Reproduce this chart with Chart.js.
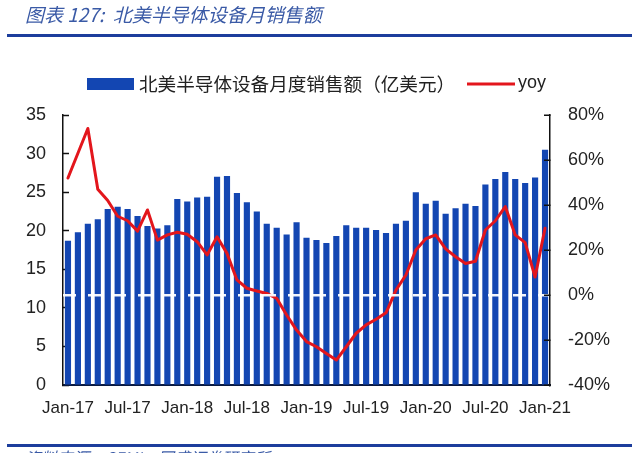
<!DOCTYPE html>
<html>
<head>
<meta charset="utf-8">
<script src="https://cdn.jsdelivr.net/npm/chart.js@4.4.1/dist/chart.umd.min.js"></script>
<style>
html,body{margin:0;padding:0;background:#fff;overflow:hidden}
#wrap{width:640px;height:453px;position:relative}
canvas{display:block}
</style>
</head>
<body>
<div id="wrap"><canvas id="c" width="640" height="453"></canvas></div>
<script>
const months = [
  "Jan-17","Feb-17","Mar-17","Apr-17","May-17","Jun-17","Jul-17","Aug-17","Sep-17","Oct-17","Nov-17","Dec-17",
  "Jan-18","Feb-18","Mar-18","Apr-18","May-18","Jun-18","Jul-18","Aug-18","Sep-18","Oct-18","Nov-18","Dec-18",
  "Jan-19","Feb-19","Mar-19","Apr-19","May-19","Jun-19","Jul-19","Aug-19","Sep-19","Oct-19","Nov-19","Dec-19",
  "Jan-20","Feb-20","Mar-20","Apr-20","May-20","Jun-20","Jul-20","Aug-20","Sep-20","Oct-20","Nov-20","Dec-20",
  "Jan-21"
];
// 北美半导体设备月度销售额（亿美元）
const sales = [
  18.7,19.8,20.9,21.5,22.8,23.1,22.8,21.9,20.6,20.3,20.7,24.1,
  23.8,24.3,24.4,27.0,27.1,24.9,23.7,22.5,20.9,20.4,19.5,21.1,
  19.1,18.8,18.4,19.3,20.7,20.4,20.4,20.1,19.7,20.9,21.3,25.0,
  23.5,23.9,22.2,22.9,23.5,23.2,26.0,26.7,27.6,26.7,26.2,26.9,
  30.5
];
// yoy (%)
const yoy = [
  52,63,74,47,42,35,33,28.4,37.8,24.4,26.7,27.9,
  27,23.7,17.8,25.9,18.5,6.7,3,1.8,0.7,-1.5,-8.9,-15.6,
  -20.7,-23,-26,-28.9,-23,-17,-13.3,-10.8,-7.9,2.2,8.9,20,
  25,26.7,20.5,17,14,15,28.9,33,39.3,26.7,23.3,8,
  29.7
];
const shownTickEvery = 6;
const titleText = "图表 127:  北美半导体设备月销售额";
const sourceText = "资料来源：SEMI，国盛证券研究所";
const salesLabel = "北美半导体设备月度销售额（亿美元）";
const yoyLabel = "yoy";

const BAR_BLUE = "#1346b2";
const LINE_RED = "#e3161c";

const decor = {
  id: "decor",
  afterDraw(chart) {
    const ctx = chart.ctx;
    const ds = chart.data.datasets;
    ctx.save();
    ctx.setLineDash([]);
    // title
    ctx.fillStyle = "#3a5aa6";
    ctx.font = "italic 19px 'Noto Sans CJK SC'";
    ctx.textBaseline = "middle";
    ctx.textAlign = "left";
    ctx.fillText(titleText, 25, 15);
    // rules
    ctx.fillStyle = "#1c3d9c";
    ctx.fillRect(7, 34, 625, 3);
    ctx.fillRect(7, 444, 625, 3);
    // source (cut at bottom)
    ctx.fillStyle = "#3a5aa6";
    ctx.font = "italic 16px 'Noto Sans CJK SC'";
    ctx.textBaseline = "top";
    ctx.fillText(sourceText, 25, 450);
    // legend
    ctx.textBaseline = "middle";
    ctx.fillStyle = ds[0].backgroundColor;
    ctx.fillRect(87, 78, 47, 12);
    ctx.fillStyle = "#222";
    ctx.font = "18.6px 'Noto Sans CJK SC'";
    ctx.fillText(ds[0].label, 139, 84);
    ctx.strokeStyle = ds[1].borderColor;
    ctx.lineWidth = 3;
    ctx.beginPath();
    ctx.moveTo(467, 84);
    ctx.lineTo(515, 84);
    ctx.stroke();
    ctx.font = "18px 'Liberation Sans'";
    ctx.fillText(ds[1].label, 518, 83);
    ctx.restore();
  }
};

new Chart(document.getElementById("c"), {
  data: {
    labels: months,
    datasets: [
      {
        type: "bar",
        label: salesLabel,
        data: sales,
        yAxisID: "y",
        backgroundColor: BAR_BLUE,
        borderWidth: 0,
        barPercentage: 0.62,
        categoryPercentage: 1.0,
        order: 2
      },
      {
        type: "line",
        label: yoyLabel,
        data: yoy,
        yAxisID: "y1",
        borderColor: LINE_RED,
        backgroundColor: LINE_RED,
        borderWidth: 3,
        pointRadius: 0,
        tension: 0,
        borderJoinStyle: "round",
        borderCapStyle: "round",
        order: 0
      }
    ]
  },
  options: {
    responsive: false,
    animation: false,
    devicePixelRatio: 1,
    layout: { padding: { top: 115, left: 0, right: 0, bottom: 0 } },
    plugins: {
      legend: { display: false },
      tooltip: { enabled: false },
      title: { display: false }
    },
    scales: {
      x: {
        type: "category",
        offset: true,
        grid: { display: false, drawTicks: false },
        border: { display: true, color: "#0b1a40", width: 2 },
        ticks: {
          autoSkip: false, maxRotation: 0, minRotation: 0,
          padding: 13, color: "#222",
          font: { family: "Liberation Sans", size: 17 },
          callback: (v, i) => (i % shownTickEvery === 0 ? months[i] : "")
        },
        afterFit: s => { s.height = 68; }
      },
      y: {
        type: "linear",
        position: "left",
        min: 0, max: 35,
        ticks: {
          stepSize: 5, padding: 23, color: "#222",
          font: { family: "Liberation Sans", size: 18 }
        },
        grid: { drawOnChartArea: false, drawTicks: true, tickLength: -6, tickColor: "#111", tickWidth: 1.5 },
        border: { display: true, color: "#111", width: 1.5 },
        afterFit: s => { s.width = 63; }
      },
      y1: {
        type: "linear",
        position: "right",
        min: -40, max: 80,
        ticks: {
          stepSize: 20, padding: 24, color: "#222",
          font: { family: "Liberation Sans", size: 18 },
          callback: v => v + "%"
        },
        grid: {
          z: 1,
          drawOnChartArea: true, drawTicks: true, tickLength: -6,
          tickColor: "#111", tickWidth: 1.5,
          lineWidth: 2.5,
          color: c => (c.tick && c.tick.value === 0 ? "rgba(255,255,255,0.95)" : "rgba(0,0,0,0)")
        },
        border: { display: true, z: 1, color: "#111", width: 1.5, dash: [13, 12] },
        afterFit: s => { s.width = 90; }
      }
    }
  },
  plugins: [decor]
});
</script>
</body>
</html>
